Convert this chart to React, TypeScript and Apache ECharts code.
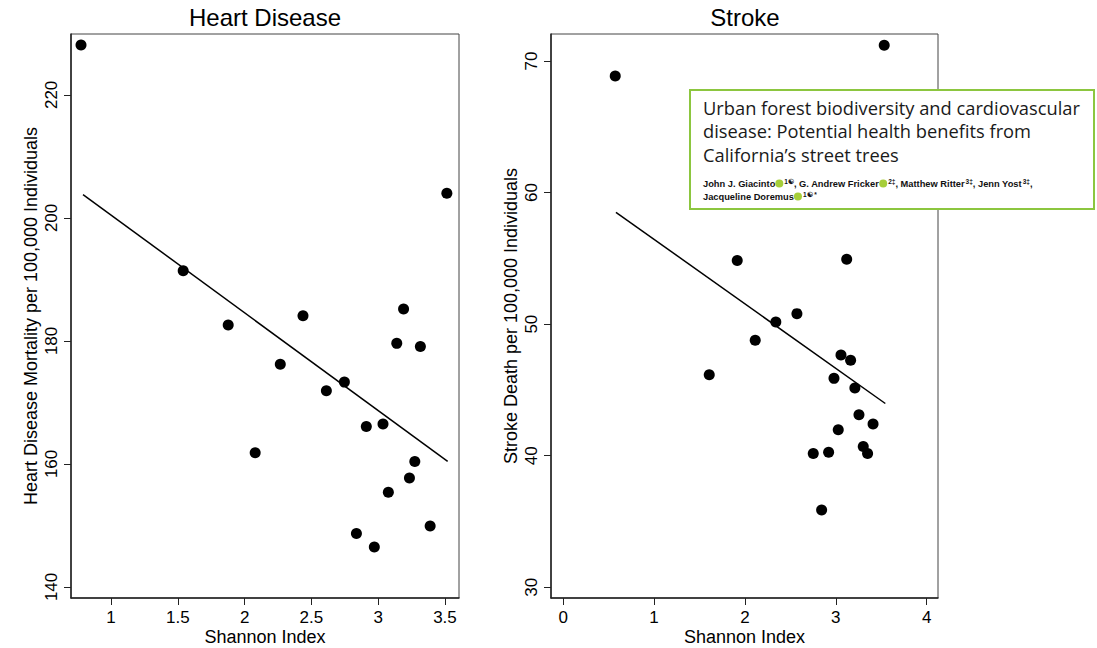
import React, { useEffect, useRef } from "react";
import * as echarts from "echarts";

// ---------- data ----------
const heartX = [0.775, 1.54, 1.877, 2.079, 2.267, 2.437, 2.612, 2.747, 2.837, 2.911, 2.971, 3.036, 3.076, 3.139, 3.19, 3.234, 3.274, 3.316, 3.389, 3.514];
const heartY = [228.1, 191.4, 182.6, 161.8, 176.2, 184.1, 171.9, 173.3, 148.7, 166.1, 146.5, 166.5, 155.4, 179.6, 185.2, 157.7, 160.4, 179.1, 149.9, 204.0];
const heartFitX = [0.79, 3.52];
const heartFitY = [203.8, 160.4];

const strokeX = [0.572, 1.607, 1.915, 2.113, 2.34, 2.572, 2.752, 2.844, 2.921, 2.98, 3.027, 3.057, 3.12, 3.163, 3.21, 3.255, 3.302, 3.35, 3.41, 3.533];
const strokeY = [68.86, 46.15, 54.83, 48.78, 50.17, 50.8, 40.17, 35.88, 40.27, 45.88, 41.98, 47.66, 54.93, 47.25, 45.14, 43.12, 40.7, 40.17, 42.41, 71.2];
const strokeFitX = [0.58, 3.545];
const strokeFitY = [58.5, 43.97];

const heartXTicks = [1, 1.5, 2, 2.5, 3, 3.5];
const heartYTicks = [140, 160, 180, 200, 220];
const strokeXTicks = [0, 1, 2, 3, 4];
const strokeYTicks = [30, 40, 50, 60, 70];

const titles = ["Heart Disease", "Stroke"];
const xName = "Shannon Index";
const yNames = ["Heart Disease Mortality per 100,000 Individuals", "Stroke Death per 100,000 Individuals"];

const paperTitle = "Urban forest biodiversity and cardiovascular\ndisease: Potential health benefits from\nCalifornia\u2019s street trees";

const FONT = '"Liberation Sans", Arial, Helvetica, sans-serif';

const zip = (xs: number[], ys: number[]) => xs.map((x, i) => [x, ys[i]]);

function xAxisCfg(grid: number, min: number, max: number, ticks: number[]) {
  return {
    gridIndex: grid,
    type: "value",
    min,
    max,
    name: xName,
    nameLocation: "middle",
    nameGap: 32,
    nameMoveOverlap: false,
    nameTextStyle: { fontSize: 18, lineHeight: 14, color: "#000", fontFamily: FONT },
    axisLine: { show: true, onZero: false, lineStyle: { color: "#222", width: 1.5 } },
    axisTick: { show: true, length: 7, customValues: ticks, lineStyle: { color: "#222", width: 1 } },
    axisLabel: { customValues: ticks, fontSize: 17, margin: 11, color: "#000", fontFamily: FONT },
    splitLine: { show: false },
  };
}

function yAxisCfg(grid: number, min: number, max: number, ticks: number[], name: string) {
  return {
    gridIndex: grid,
    type: "value",
    min,
    max,
    name,
    nameLocation: "middle",
    nameGap: 31,
    nameMoveOverlap: false,
    nameTextStyle: { fontSize: 18, color: "#000", fontFamily: FONT },
    axisLine: { show: true, onZero: false, lineStyle: { color: "#222", width: 1.5 } },
    axisTick: { show: true, length: 7, customValues: ticks, lineStyle: { color: "#222", width: 1 } },
    axisLabel: { customValues: ticks, fontSize: 17, margin: 11, rotate: 90, color: "#000", fontFamily: FONT },
    splitLine: { show: false },
  };
}

export default function App() {
  const ref = useRef<HTMLDivElement>(null);
  useEffect(() => {
    if (!ref.current) return;
    const chart = echarts.init(ref.current, null, { renderer: "svg" });
    const option: any = {
      animation: false,
      backgroundColor: "#fff",
      title: [
        { text: titles[0], left: 265, top: 5, padding: 0, textAlign: "center", textStyle: { fontSize: 24, fontWeight: "normal", color: "#000", fontFamily: FONT } },
        { text: titles[1], left: 745, top: 5, padding: 0, textAlign: "center", textStyle: { fontSize: 24, fontWeight: "normal", color: "#000", fontFamily: FONT } },
      ],
      grid: [
        { left: 71, top: 34, width: 388, height: 564, outerBoundsMode: "none", containLabel: false, show: true, borderColor: "#444", borderWidth: 1, backgroundColor: "transparent" },
        { left: 551, top: 34, width: 387, height: 564, outerBoundsMode: "none", containLabel: false, show: true, borderColor: "#444", borderWidth: 1, backgroundColor: "transparent" },
      ],
      xAxis: [xAxisCfg(0, 0.7, 3.605, heartXTicks), xAxisCfg(1, -0.135, 4.125, strokeXTicks)],
      yAxis: [yAxisCfg(0, 138.2, 229.9, heartYTicks, yNames[0]), yAxisCfg(1, 29.19, 72.05, strokeYTicks, yNames[1])],
      series: [
        { type: "scatter", xAxisIndex: 0, yAxisIndex: 0, data: zip(heartX, heartY), symbolSize: 11, itemStyle: { color: "#000", opacity: 1 } },
        { type: "line", xAxisIndex: 0, yAxisIndex: 0, data: zip(heartFitX, heartFitY), symbol: "none", lineStyle: { color: "#000", width: 1.5 } },
        { type: "scatter", xAxisIndex: 1, yAxisIndex: 1, data: zip(strokeX, strokeY), symbolSize: 11, itemStyle: { color: "#000", opacity: 1 } },
        { type: "line", xAxisIndex: 1, yAxisIndex: 1, data: zip(strokeFitX, strokeFitY), symbol: "none", lineStyle: { color: "#000", width: 1.5 } },
      ],
      graphic: [
        {
          type: "rect",
          z: 100,
          shape: { x: 690, y: 90, width: 404, height: 119 },
          style: { fill: "#fff", stroke: "#8cc63f", lineWidth: 2 },
        },
        {
          type: "text",
          z: 101,
          x: 703,
          y: 96,
          style: {
            text: paperTitle,
            fontSize: 18.3,
            lineHeight: 23.3,
            fontFamily: '"Open Sans", "Noto Sans", sans-serif',
            fill: "#1a1a1a",
            textVerticalAlign: "top",
          },
        },
        {
          type: "text",
          z: 101,
          x: 703,
          y: 177,
          style: {
            text:
              "{a|John J. Giacinto}{o| }{s|1\u262F}{a|, G. Andrew Fricker}{o| }{s|2\u2021}{a|, Matthew Ritter}{s|3\u2021}{a|, Jenn Yost}{s|3\u2021}{a|,}\n" +
              "{a|Jacqueline Doremus}{o| }{s|1\u262F *}",
            textVerticalAlign: "top",
            rich: {
              a: { fontSize: 9.3, fontWeight: "bold", fontFamily: FONT, fill: "#111", lineHeight: 13 },
              s: { fontSize: 6.5, fontWeight: "bold", fontFamily: FONT, fill: "#111", lineHeight: 13, verticalAlign: "top", padding: [1, 0, 0, 1] },
              o: { width: 8, height: 8, backgroundColor: "#a6ce39", borderRadius: 4, lineHeight: 13, padding: [0, 0, 0, 0] },
            },
          },
        },
      ],
    };
    chart.setOption(option);
    return () => chart.dispose();
  }, []);
  return <div ref={ref} style={{ position: "absolute", left: 0, top: 0, width: 1097, height: 648 }} />;
}
